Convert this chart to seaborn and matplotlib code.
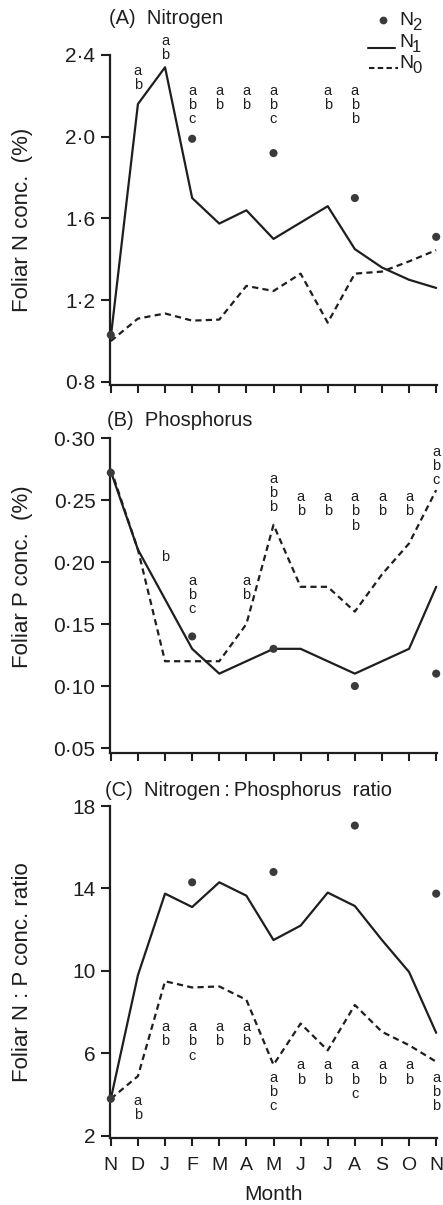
import numpy as np
import pandas as pd
import matplotlib
matplotlib.use("Agg")
import matplotlib.pyplot as plt
import seaborn as sns
from matplotlib.lines import Line2D

nan = np.nan

# ---------------- data ----------------
months = ["N", "D", "J", "F", "M", "A", "M", "J", "J", "A", "S", "O", "N"]

# (A) Foliar N conc. (%)
n_N1 = [1.02, 2.16, 2.34, 1.70, 1.575, 1.64, 1.50, 1.58, 1.66, 1.45, 1.36, 1.30, 1.26]
n_N0 = [1.00, 1.11, 1.135, 1.10, 1.105, 1.27, 1.245, 1.33, 1.09, 1.33, 1.34, 1.39, 1.445]
n_N2 = [1.03, nan, nan, 1.99, nan, nan, 1.92, nan, nan, 1.70, nan, nan, 1.51]

# (B) Foliar P conc. (%)
p_N1 = [0.273, 0.21, 0.17, 0.13, 0.11, 0.12, 0.13, 0.13, 0.12, 0.11, 0.12, 0.13, 0.18]
p_N0 = [0.275, 0.21, 0.12, 0.12, 0.12, 0.15, 0.23, 0.18, 0.18, 0.16, 0.19, 0.215, 0.258]
p_N2 = [0.272, nan, nan, 0.14, nan, nan, 0.13, nan, nan, 0.10, nan, nan, 0.11]

# (C) Foliar N:P conc. ratio
r_N1 = [3.8, 9.8, 13.75, 13.1, 14.3, 13.65, 11.5, 12.2, 13.8, 13.15, 11.5, 9.95, 7.0]
r_N0 = [3.8, 4.9, 9.5, 9.2, 9.25, 8.6, 5.45, 7.45, 6.15, 8.35, 7.05, 6.4, 5.6]
r_N2 = [3.8, nan, nan, 14.3, nan, nan, 14.8, nan, nan, 17.05, nan, nan, 13.75]

# significance letters
n_letters = ["", "ab", "ab", "abc", "ab", "ab", "abc", "", "ab", "abb", "", "", ""]
p_letters = ["", "", "b", "abc", "", "ab", "abb", "ab", "ab", "abb", "ab", "ab", "abc"]
r_letters = ["", "ab", "ab", "abc", "ab", "ab", "abc", "ab", "ab", "abc", "ab", "ab", "abb"]
n_letter_top = [nan, 2.356, 2.503, 2.258, 2.258, 2.258, 2.258, nan, 2.258, 2.258, nan, nan, nan]
p_letter_top = [nan, nan, 0.2097, 0.1903, nan, 0.1903, 0.2726, 0.258, 0.258, 0.258, 0.258, 0.258, 0.2944]
r_letter_top = [nan, 4.05, 7.61, 7.61, 7.61, 7.61, 5.17, 5.76, 5.76, 5.76, 5.76, 5.76, 5.17]

n_ticks = [0.8, 1.2, 1.6, 2.0, 2.4]
n_ticklabels = ["0\u00b78", "1\u00b72", "1\u00b76", "2\u00b70", "2\u00b74"]
p_ticks = [0.05, 0.10, 0.15, 0.20, 0.25, 0.30]
p_ticklabels = ["0\u00b705", "0\u00b710", "0\u00b715", "0\u00b720", "0\u00b725", "0\u00b730"]
r_ticks = [2, 6, 10, 14, 18]
r_ticklabels = ["2", "6", "10", "14", "18"]

# ---------------- style ----------------
sns.set_style("ticks")
plt.rcParams["font.family"] = ["Liberation Sans", "DejaVu Sans"]
plt.rcParams["lines.scale_dashes"] = True

W, H = 443, 1205
fig = plt.figure(figsize=(W / 100, H / 100), dpi=100)

INK = "#1e1e1e"
DOT = "#3a3a3a"
x_idx = list(range(len(months)))


def fx(px):
    return px / W


def fy(py):
    return 1 - py / H


def make_panel(rect_px, ylim, y1, y0, y2, ticks, ticklabels, letters, ltop,
               title, title_px, ylabel, ylabel_y, show_months):
    left, top, right, bottom = rect_px
    ax = fig.add_axes([fx(left), fy(bottom), fx(right - left), (bottom - top) / H])
    df = pd.DataFrame({"x": x_idx, "N1": y1, "N0": y0, "N2": y2})
    sns.lineplot(data=df, x="x", y="N1", ax=ax, color=INK, lw=1.6,
                 clip_on=False, zorder=3)
    sns.lineplot(data=df, x="x", y="N0", ax=ax, color=INK, lw=1.6,
                 clip_on=False, zorder=3)
    ax.lines[-1].set_dashes([2.8, 1.9])
    sns.scatterplot(data=df.dropna(), x="x", y="N2", ax=ax, color=DOT, s=34,
                    edgecolor="none", linewidth=0, clip_on=False, zorder=4)

    for i, (lt, yt) in enumerate(zip(letters, ltop)):
        if lt:
            ax.text(i, yt, "\n".join(lt), ha="center", va="top", fontsize=10.5,
                    linespacing=1.02, color=INK)

    ax.set_xlim(-0.03, 12.03)
    ax.set_ylim(*ylim)
    ax.set_yticks(ticks)
    ax.set_yticklabels(ticklabels)
    ax.set_xticks(x_idx)
    if show_months:
        ax.set_xticklabels(months)
    else:
        ax.set_xticklabels([])
    ax.tick_params(axis="both", direction="out", width=1.5, color=INK)
    ax.tick_params(axis="y", length=6.5, pad=4, labelsize=15, labelcolor=INK)
    ax.tick_params(axis="x", length=6, pad=8, labelsize=14, labelcolor=INK)
    for s in ["top", "right"]:
        ax.spines[s].set_visible(False)
    for s in ["left", "bottom"]:
        ax.spines[s].set_linewidth(1.6)
        ax.spines[s].set_color(INK)
    ax.spines["left"].set_bounds(ylim[0], ticks[-1])

    ax.set_ylabel(ylabel, fontsize=16, color=INK)
    ax.yaxis.set_label_coords(fx(22 - left) / fx(right - left) if False else (22 - left) / (right - left),
                              ylabel_y)
    ax.yaxis.label.set_va("center")
    if show_months:
        ax.set_xlabel("Month", fontsize=15, color=INK)
        ax.xaxis.set_label_coords(0.5, (bottom - 1185) / (bottom - top))
        ax.xaxis.label.set_va("top")
    else:
        ax.set_xlabel("")
    fig.text(fx(title_px[0]), fy(title_px[1]), title, fontsize=14.5,
             ha="left", va="center", color=INK)
    return ax


axA = make_panel((110, 55, 437, 385), (0.785, 2.4), n_N1, n_N0, n_N2,
                 n_ticks, n_ticklabels, n_letters, n_letter_top,
                 "(A)  Nitrogen", (109, 19), "Foliar N conc.  (%)", 0.5, False)
axB = make_panel((110, 438, 437, 753), (0.046, 0.30), p_N1, p_N0, p_N2,
                 p_ticks, p_ticklabels, p_letters, p_letter_top,
                 "(B)  Phosphorus", (107, 420), "Foliar P conc.  (%)", 0.56, False)
axC = make_panel((110, 806, 437, 1138), (1.9, 18), r_N1, r_N0, r_N2,
                 r_ticks, r_ticklabels, r_letters, r_letter_top,
                 "(C)  Nitrogen\u2009:\u2009Phosphorus  ratio", (105, 790),
                 "Foliar N : P conc. ratio", 0.5, True)

# ---------------- legend (top right) ----------------
fig.add_artist(Line2D([fx(383)], [fy(20)], marker="o", markersize=5.6,
                      color=DOT, markeredgewidth=0, linestyle="none"))
fig.add_artist(Line2D([fx(368), fx(395)], [fy(48), fy(48)], color=INK, lw=1.5))
ln0 = Line2D([fx(369), fx(398)], [fy(68), fy(68)], color=INK, lw=1.5)
ln0.set_dashes([2.6, 1.6])
fig.add_artist(ln0)
for name, sub, yb in [("N", "2", 25), ("N", "1", 47), ("N", "0", 68)]:
    fig.text(fx(399), fy(yb), name, fontsize=14, ha="left", va="baseline", color=INK)
    fig.text(fx(412), fy(yb + 5), sub, fontsize=12, ha="left", va="baseline", color=INK)

fig.savefig("out.png", dpi=100)
